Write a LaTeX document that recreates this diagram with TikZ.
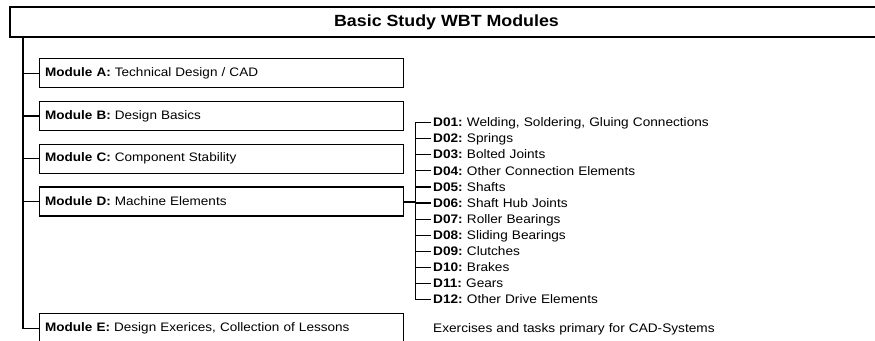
\documentclass[tikz,border=0pt]{standalone}
\usepackage{fontspec}
\setmainfont{Liberation Sans}[FakeStretch=1.1]
\usetikzlibrary{positioning,calc}
\frenchspacing
\tikzset{
  titlebox/.style={
    draw=black,line width=2pt,
    minimum width=870pt,minimum height=30pt,
    font=\fontsize{16.2pt}{19pt}\selectfont\bfseries
  },
  modbox/.style={
    draw=black,fill=white,line width=1.2pt,
    minimum height=29pt,text width=352pt,inner xsep=6pt,
    align=left,font=\fontsize{12.3pt}{14pt}\selectfont
  },
  item/.style={
    inner xsep=2pt,inner ysep=0pt,outer sep=0pt,
    text height=10pt,text depth=1.5pt,minimum height=16.1pt,
    text width=300pt,align=left,font=\fontsize{12.4pt}{14pt}\selectfont
  },
  link/.style={draw=black,line width=1.2pt},
  mainlink/.style={draw=black,line width=2pt}
}
\begin{document}
\begin{tikzpicture}
\useasboundingbox (0,0) rectangle (875pt,-340pt);
\node[titlebox] (title) at (445pt,-22pt) {\hspace*{3pt}Basic Study WBT Modules};

\node[modbox,below right=20pt and 29.5pt of title.south west] (modA)
{\textbf{Module A:} Technical Design / CAD};
\node[modbox,below=12.6pt of modA] (modB) {\textbf{Module B:} Design Basics};
\node[modbox,below=12.6pt of modB] (modC) {\textbf{Module C:} Component Stability};
\node[modbox,below=12.6pt of modC] (modD) {\textbf{Module D:} Machine Elements};
\node[modbox,below=96.4pt of modD] (modE)
{\textbf{Module E:} Design Exerices, Collection of Lessons};

% machine element topics
\node[item,right=27.5pt of modD.east,yshift=-1.5pt] (d06) {\textbf{D06:} Shaft Hub Joints};
\node[item,above=0pt of d06] (d05) {\textbf{D05:} Shafts};
\node[item,above=0pt of d05] (d04) {\textbf{D04:} Other Connection Elements};
\node[item,above=0pt of d04] (d03) {\textbf{D03:} Bolted Joints};
\node[item,above=0pt of d03] (d02) {\textbf{D02:} Springs};
\node[item,above=0pt of d02] (d01) {\textbf{D01:} Welding, Soldering, Gluing Connections};
\node[item,below=0pt of d06] (d07) {\textbf{D07:} Roller Bearings};
\node[item,below=0pt of d07] (d08) {\textbf{D08:} Sliding Bearings};
\node[item,below=0pt of d08] (d09) {\textbf{D09:} Clutches};
\node[item,below=0pt of d09] (d10) {\textbf{D10:} Brakes};
\node[item,below=0pt of d10] (d11) {\textbf{D11:} Gears};
\node[item,below=0pt of d11] (d12) {\textbf{D12:} Other Drive Elements};

\node[item,right=27.5pt of modE.east] (exer) {Exercises and tasks primary for CAD-Systems};

\coordinate (spine) at ($(title.south west)+(14pt,0)$);
\coordinate (bartop) at ($(d01.west)+(-16pt,0)$);

\draw[link] (spine) |- (modE.west);
\foreach \m in {modA,modB,modC,modD}
  \draw[link] (\m.west) -- (\m.west -| spine);

\draw[link] (d01.west) -- (bartop) |- (d12.west);
\foreach \d in {d02,d03,d04,d05,d06,d07,d08,d09,d10,d11}
  \draw[link] (\d.west) -- (\d.west -| bartop);
\draw[mainlink] (modD.east) -- (modD.east -| bartop);
\end{tikzpicture}
\end{document}
